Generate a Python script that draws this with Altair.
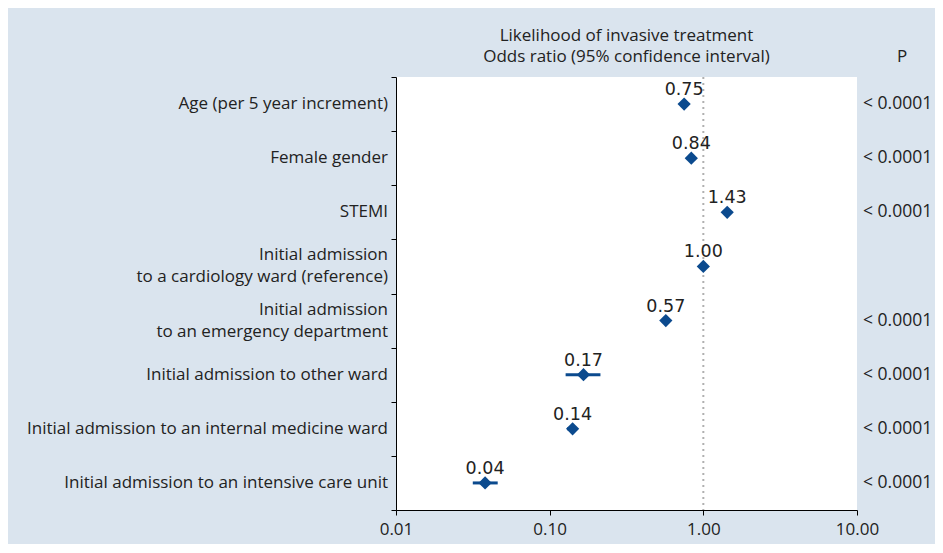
import altair as alt
import pandas as pd

categories = [
    "Age (per 5 year increment)",
    "Female gender",
    "STEMI",
    "Initial admission \nto a cardiology ward (reference)",
    "Initial admission \nto an emergency department",
    "Initial admission to other ward",
    "Initial admission to an internal medicine ward",
    "Initial admission to an intensive care unit",
]
odds = [0.75, 0.835, 1.43, 1.00, 0.57, 0.166, 0.141, 0.038]
ci_low = [0.73, 0.80, 1.36, 1.00, 0.54, 0.127, 0.13, 0.0316]
ci_high = [0.77, 0.87, 1.50, 1.00, 0.60, 0.214, 0.15, 0.0459]
odds_labels = ["0.75", "0.84", "1.43", "1.00", "0.57", "0.17", "0.14", "0.04"]
p_values = ["< 0.0001", "< 0.0001", "< 0.0001", "", "< 0.0001", "< 0.0001", "< 0.0001", "< 0.0001"]
x_ticks = [0.01, 0.1, 1.0, 10.0]
title_text = "Likelihood of invasive treatment\nOdds ratio (95% confidence interval)"
p_header = "P"

df = pd.DataFrame({
    "idx": list(range(len(categories))),
    "cat": categories,
    "or": odds,
    "lo": ci_low,
    "hi": ci_high,
    "lab": odds_labels,
    "p": p_values,
})

BLUE = "#0b4a8e"
BG = "#dae4ee"
TXT = "#222222"
FONT = "Open Sans"

W, H = 461, 433

xscale = alt.Scale(type="log", domain=[0.01, 10], nice=False)
yscale = alt.Scale(domain=[-0.5, 7.5], reverse=True, nice=False, zero=False)

x_axis = alt.Axis(values=x_ticks, format=".2f", title=None, grid=False,
                  domainColor="black", tickColor="black", tickSize=5,
                  labelFontSize=17, labelFont=FONT, labelColor=TXT, labelPadding=6,
                  labelFlush=False)
y_axis = alt.Axis(values=[i - 0.5 for i in range(len(categories) + 1)], labels=False,
                  title=None, grid=False, domainColor="black", tickColor="black", tickSize=5)

X = lambda f: alt.X(f, type="quantitative", scale=xscale, axis=x_axis)
Y = alt.Y("idx:Q", scale=yscale, axis=y_axis)

base = alt.Chart(df)

ref = alt.Chart(pd.DataFrame({"v": [1.0]})).mark_rule(
    color="#b0b0b0", strokeWidth=2, strokeDash=[2, 4]
).encode(x=X("v"))

ci = base.mark_rule(color=BLUE, strokeWidth=3).encode(x=X("lo"), x2="hi:Q", y=Y)

pts = base.mark_point(shape="diamond", filled=True, size=175, color=BLUE, opacity=1).encode(
    x=X("or"), y=Y)

vals = base.mark_text(dy=-14, fontSize=17.5, font="DejaVu Sans", color=TXT).encode(
    x=X("or"), y=Y, text="lab:N")

cat_style = dict(align="right", baseline="middle", fontSize=17, font=FONT,
                 color=TXT, lineBreak="\n", lineHeight=22)
cats1 = base.transform_filter("indexof(datum.cat, '\\n') < 0").mark_text(**cat_style).encode(
    x=alt.value(-8), y=Y, text="cat:N")
cats2 = base.transform_filter("indexof(datum.cat, '\\n') >= 0").mark_text(dy=-11, **cat_style).encode(
    x=alt.value(-8), y=Y, text="cat:N")

pv = base.mark_text(align="left", baseline="middle", fontSize=17.5, font=FONT, color=TXT).encode(
    x=alt.value(467), y=Y, text="p:N")

ttl = alt.Chart(pd.DataFrame({"t": [title_text]})).mark_text(
    align="center", baseline="middle", fontSize=17, font=FONT, color=TXT,
    lineBreak="\n", lineHeight=21).encode(
    x=alt.value(W / 2), y=alt.value(-41), text="t:N")

ptxt = alt.Chart(pd.DataFrame({"t": [p_header]})).mark_text(
    align="center", baseline="middle", fontSize=17, font=FONT, color=TXT).encode(
    x=alt.value(506), y=alt.value(-20), text="t:N")

chart = alt.layer(ref, ci, pts, vals, cats1, cats2, pv, ttl, ptxt).properties(
    width=W, height=H,
    autosize=alt.AutoSizeParams(type="none"),
    padding={"left": 388, "top": 69, "right": 78, "bottom": 34},
    background=BG,
).configure_view(fill="white", stroke=None)

chart.save("out.html", embed_options={"renderer": "svg", "actions": False})
